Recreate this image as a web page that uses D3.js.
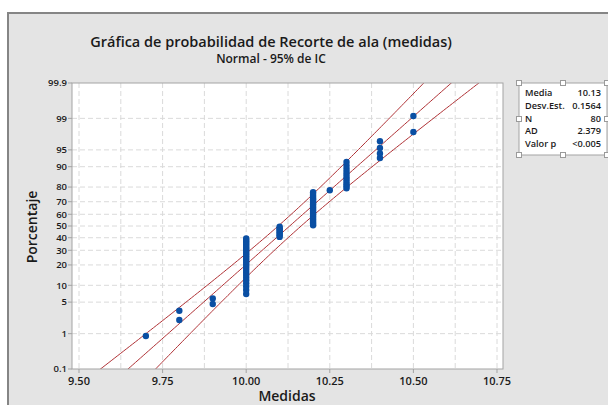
<!DOCTYPE html>
<html>
<head>
<meta charset="utf-8">
<script src="https://cdn.jsdelivr.net/npm/d3@7"></script>
<style>
  body { margin: 0; background: #fff; }
  text { font-family: 'Open Sans', sans-serif; fill: #1a1a1a; }
</style>
</head>
<body>
<script>
var medidas = [9.70, 9.80, 9.90, 10.00, 10.10, 10.20, 10.25, 10.30, 10.40, 10.50]
var conteos = [1, 2, 2, 27, 8, 22, 1, 11, 4, 2]

var xTicks = [9.50, 9.75, 10.00, 10.25, 10.50, 10.75]
var yTicks = [0.1, 1, 5, 10, 20, 30, 40, 50, 60, 70, 80, 90, 95, 99, 99.9]

var statLabels = ['Media', 'Desv.Est.', 'N', 'AD', 'Valor p']
var statValues = ['10.13', '0.1564', '80', '2.379', '<0.005']
var media = 10.13
var desv = 0.1564
var n = 80

var width = 608
var height = 405
var plot = {left: 72, right: 503, top: 83, bottom: 369}

var svg = d3.select('body')
  .append('svg')
    .attr('width', width)
    .attr('height', height)

// gray frame / background
svg.append('rect')
  .attr('x', 8).attr('y', 13)
  .attr('width', width).attr('height', height)
  .attr('fill', '#e4e4e4')
  .attr('stroke', '#858585')
  .attr('stroke-width', 2)

svg.append('rect')
  .attr('x', plot.left).attr('y', plot.top)
  .attr('width', plot.right - plot.left).attr('height', plot.bottom - plot.top)
  .attr('fill', '#fff')

// scales (y is a normal probability scale, 0.1% .. 99.9%)
var x = d3.scaleLinear()
  .domain([9.5, 10.75])
  .range([79, 497])

var zMax = 3.0902
var zScale = d3.scaleLinear()
  .domain([-zMax, zMax])
  .range([plot.bottom, plot.top])

// inverse normal cdf (Acklam)
function probit(p) {
  var a = [-39.6968302866538, 220.946098424521, -275.928510446969, 138.357751867269, -30.6647980661472, 2.50662827745924]
  var b = [-54.4760987982241, 161.585836858041, -155.698979859887, 66.8013118877197, -13.2806815528857]
  var c = [-0.00778489400243029, -0.322396458041136, -2.40075827716184, -2.54973253934373, 4.37466414146497, 2.93816398269878]
  var d = [0.00778469570904146, 0.32246712907004, 2.445134137143, 3.75440866190742]
  var pl = 0.02425, q, r
  if (p < pl) {
    q = Math.sqrt(-2 * Math.log(p))
    return (((((c[0]*q+c[1])*q+c[2])*q+c[3])*q+c[4])*q+c[5]) / ((((d[0]*q+d[1])*q+d[2])*q+d[3])*q+1)
  } else if (p <= 1 - pl) {
    q = p - 0.5; r = q * q
    return (((((a[0]*r+a[1])*r+a[2])*r+a[3])*r+a[4])*r+a[5])*q / (((((b[0]*r+b[1])*r+b[2])*r+b[3])*r+b[4])*r+1)
  } else {
    q = Math.sqrt(-2 * Math.log(1 - p))
    return -(((((c[0]*q+c[1])*q+c[2])*q+c[3])*q+c[4])*q+c[5]) / ((((d[0]*q+d[1])*q+d[2])*q+d[3])*q+1)
  }
}

function yPct(pct) { return zScale(probit(pct / 100)) }

// grid
var xGrid = d3.range(9.5, 10.76, 0.125)
svg.append('g').selectAll('line')
    .data(xGrid)
  .enter().append('line')
    .attr('x1', function(d) { return x(d) })
    .attr('x2', function(d) { return x(d) })
    .attr('y1', plot.top).attr('y2', plot.bottom)
    .attr('stroke', '#dadada')
    .attr('stroke-dasharray', '5,3')

svg.append('g').selectAll('line')
    .data(yTicks.slice(1, -1))
  .enter().append('line')
    .attr('x1', plot.left).attr('x2', plot.right)
    .attr('y1', function(d) { return yPct(d) })
    .attr('y2', function(d) { return yPct(d) })
    .attr('stroke', '#dadada')
    .attr('stroke-dasharray', '5,3')

// fitted line and 95% bands, clipped to plot area
svg.append('clipPath').attr('id', 'clip')
  .append('rect')
    .attr('x', plot.left).attr('y', plot.top)
    .attr('width', plot.right - plot.left).attr('height', plot.bottom - plot.top)

var zs = d3.range(-3.3, 3.31, 0.05)
var bandDefs = [0, -1.96, 1.96]
var lineGen = d3.line()
  .x(function(d) { return x(d[0]) })
  .y(function(d) { return zScale(d[1]) })

svg.append('g').attr('clip-path', 'url(#clip)')
  .selectAll('path')
    .data(bandDefs)
  .enter().append('path')
    .attr('d', function(k) {
      return lineGen(zs.map(function(z) {
        var se = desv / Math.sqrt(n) * Math.sqrt(1 + z * z / 2)
        return [media + z * desv + k * se, z]
      }))
    })
    .attr('fill', 'none')
    .attr('stroke', '#b03236')
    .attr('stroke-width', 1)

// points with median ranks
var puntos = []
var rank = 0
medidas.forEach(function(m, i) {
  for (var j = 0; j < conteos[i]; j++) {
    rank++
    puntos.push({x: m, p: (rank - 0.3) / (n + 0.4)})
  }
})

svg.append('g').selectAll('circle')
    .data(puntos)
  .enter().append('circle')
    .attr('cx', function(d) { return x(d.x) })
    .attr('cy', function(d) { return zScale(probit(d.p)) })
    .attr('r', 3.2)
    .attr('fill', '#0a4fa3')

// plot frame
svg.append('rect')
  .attr('x', plot.left).attr('y', plot.top)
  .attr('width', plot.right - plot.left).attr('height', plot.bottom - plot.top)
  .attr('fill', 'none')
  .attr('stroke', '#a3a3a3')

// y axis ticks
var yAxis = svg.append('g')
yAxis.selectAll('line')
    .data(yTicks)
  .enter().append('line')
    .attr('x1', plot.left - 4).attr('x2', plot.left)
    .attr('y1', function(d) { return yPct(d) })
    .attr('y2', function(d) { return yPct(d) })
    .attr('stroke', '#a3a3a3')
yAxis.selectAll('text')
    .data(yTicks)
  .enter().append('text')
    .attr('x', plot.left - 5)
    .attr('y', function(d) { return yPct(d) })
    .attr('dy', '0.35em')
    .attr('text-anchor', 'end')
    .style('font-size', '9.5px')
    .style('font-weight', 600)
    .text(function(d) { return d })

// x axis ticks
var xAxis = svg.append('g')
xAxis.selectAll('line')
    .data(xTicks)
  .enter().append('line')
    .attr('x1', function(d) { return x(d) })
    .attr('x2', function(d) { return x(d) })
    .attr('y1', plot.bottom).attr('y2', plot.bottom + 4)
    .attr('stroke', '#a3a3a3')
xAxis.selectAll('text')
    .data(xTicks)
  .enter().append('text')
    .attr('x', function(d) { return x(d) })
    .attr('y', plot.bottom + 16)
    .attr('text-anchor', 'middle')
    .style('font-size', '11px')
    .style('font-weight', 600)
    .text(function(d) { return d3.format('.2f')(d) })

// titles
svg.append('text')
  .attr('x', 271).attr('y', 47)
  .attr('text-anchor', 'middle')
  .style('font-size', '14.5px')
  .style('font-weight', 600)
  .text('Gráfica de probabilidad de Recorte de ala (medidas)')

svg.append('text')
  .attr('x', 271).attr('y', 63)
  .attr('text-anchor', 'middle')
  .style('font-size', '12px')
  .style('font-weight', 600)
  .text('Normal - 95% de IC')

svg.append('text')
  .attr('x', 287).attr('y', 401)
  .attr('text-anchor', 'middle')
  .style('font-size', '14px')
  .style('font-weight', 600)
  .text('Medidas')

svg.append('text')
  .attr('transform', 'translate(37,227) rotate(-90)')
  .attr('text-anchor', 'middle')
  .style('font-size', '14px')
  .style('font-weight', 600)
  .text('Porcentaje')

// stats box
var box = {x: 519, y: 83, w: 88, h: 72}
svg.append('rect')
  .attr('x', box.x).attr('y', box.y)
  .attr('width', box.w).attr('height', box.h)
  .attr('fill', '#fff')
  .attr('stroke', '#a3a3a3')

var handles = [[0, 0], [0.5, 0], [1, 0], [0, 0.5], [1, 0.5], [0, 1], [0.5, 1], [1, 1]]
svg.append('g').selectAll('rect')
    .data(handles)
  .enter().append('rect')
    .attr('x', function(d) { return box.x + d[0] * box.w - 2.5 })
    .attr('y', function(d) { return box.y + d[1] * box.h - 2.5 })
    .attr('width', 5).attr('height', 5)
    .attr('fill', '#fff')
    .attr('stroke', '#9a9a9a')

var stats = svg.append('g')
stats.selectAll('text.lab')
    .data(statLabels)
  .enter().append('text')
    .attr('class', 'lab')
    .attr('x', box.x + 6)
    .attr('y', function(d, i) { return box.y + 13 + i * 12.8 })
    .style('font-size', '9.2px')
    .style('font-weight', 600)
    .text(function(d) { return d })
stats.selectAll('text.val')
    .data(statValues)
  .enter().append('text')
    .attr('class', 'val')
    .attr('x', box.x + box.w - 6)
    .attr('y', function(d, i) { return box.y + 13 + i * 12.8 })
    .attr('text-anchor', 'end')
    .style('font-size', '9.2px')
    .style('font-weight', 600)
    .text(function(d) { return d })
</script>
</body>
</html>
